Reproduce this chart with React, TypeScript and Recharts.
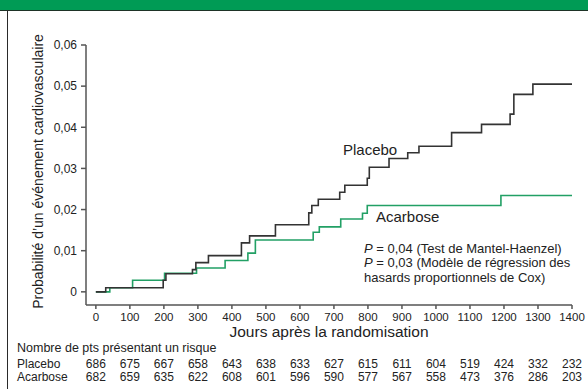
import React from 'react';
import { LineChart, Line, XAxis, YAxis, Label } from 'recharts';

// Kaplan-Meier style cumulative probability (days after randomisation -> probability)
const placeboDays = [0, 29, 198, 206, 284, 294, 331, 428, 452, 528, 626, 635, 654, 717, 732, 798, 804, 862, 917, 950, 1046, 1134, 1218, 1229, 1285, 1400];
const placeboProb = [0, 0.001, 0.0028, 0.0044, 0.0054, 0.0071, 0.0088, 0.0119, 0.0136, 0.0163, 0.0192, 0.021, 0.0225, 0.0242, 0.0259, 0.0276, 0.0303, 0.0324, 0.0338, 0.0354, 0.0387, 0.0407, 0.0432, 0.048, 0.0505, 0.0505];
const acarboseDays = [0, 41, 108, 202, 296, 380, 447, 469, 639, 657, 720, 784, 798, 1191, 1400];
const acarboseProb = [0, 0.001, 0.0028, 0.0045, 0.0058, 0.0076, 0.0094, 0.0126, 0.0145, 0.0158, 0.0177, 0.0191, 0.021, 0.0234, 0.0234];

const dayTicks = [0, 100, 200, 300, 400, 500, 600, 700, 800, 900, 1000, 1100, 1200, 1300, 1400];
const probTicks = [0, 0.01, 0.02, 0.03, 0.04, 0.05, 0.06];

const placeboAtRisk = [686, 675, 667, 658, 643, 638, 633, 627, 615, 611, 604, 519, 424, 332, 232];
const acarboseAtRisk = [682, 659, 635, 622, 608, 601, 596, 590, 577, 567, 558, 473, 376, 286, 203];

const seriesNames = ['Placebo', 'Acarbose'];
const yTitle = 'Probabilité d’un événement cardiovasculaire';
const xTitle = 'Jours après la randomisation';
const tableTitle = 'Nombre de pts présentant un risque';
const noteLines = ['= 0,04 (Test de Mantel-Haenzel)', '= 0,03 (Modèle de régression des', 'hasards proportionnels de Cox)'];

const placeboData = placeboDays.map((d, i) => ({ day: d, p: placeboProb[i] }));
const acarboseData = acarboseDays.map((d, i) => ({ day: d, p: acarboseProb[i] }));

const FONT = '"Liberation Sans", Arial, Helvetica, sans-serif';
const TEXT = '#222';
const GREEN = '#22a065';
const BLACK = '#333';
const X_DOMAIN: [number, number] = [-29, 1400];

const fmtProb = (v: number) => (v === 0 ? '0' : v.toFixed(2).replace('.', ','));

export default function App() {
  return (
    <div style={{ position: 'absolute', left: 0, top: 0, width: 588, height: 389, background: '#fff', fontFamily: FONT, overflow: 'hidden' }}>
      <div style={{ position: 'absolute', left: 0, top: 0, width: 588, height: 10, background: '#009b55', borderBottom: '1.5px solid #1e3327' }} />
      <div style={{ position: 'absolute', left: 6.5, top: 10, width: 1.5, height: 379, background: '#2a2a2a' }} />
      <div style={{ position: 'absolute', left: 0, top: 0 }}>
        <LineChart width={588} height={389} margin={{ top: 45, right: 16, bottom: 7, left: 0 }} style={{ fontFamily: FONT }}>
          <XAxis
            xAxisId="a_main"
            dataKey="day"
            type="number"
            domain={X_DOMAIN}
            allowDataOverflow
            ticks={dayTicks}
            interval={0}
            height={51}
            tickSize={4}
            tickMargin={4}
            stroke="#555"
            strokeWidth={1.5}
            tick={{ fill: TEXT, fontSize: 11.5 }}
          >
            <Label value={xTitle} position="insideBottom" offset={19} style={{ fill: TEXT, fontSize: 15.5 }} />
          </XAxis>
          <XAxis
            xAxisId="b_placeboRisk"
            dataKey="day"
            type="number"
            domain={X_DOMAIN}
            allowDataOverflow
            ticks={dayTicks}
            interval={0}
            height={13}
            axisLine={false}
            tickLine={false}
            tickSize={0}
            tickMargin={3.5}
            tick={{ fill: TEXT, fontSize: 12 }}
            tickFormatter={(v: number, i: number) => String(placeboAtRisk[i])}
          />
          <XAxis
            xAxisId="c_acarboseRisk"
            dataKey="day"
            type="number"
            domain={X_DOMAIN}
            allowDataOverflow
            ticks={dayTicks}
            interval={0}
            height={13}
            axisLine={false}
            tickLine={false}
            tickSize={0}
            tickMargin={3.5}
            tick={{ fill: TEXT, fontSize: 12 }}
            tickFormatter={(v: number, i: number) => String(acarboseAtRisk[i])}
          />
          <YAxis
            type="number"
            domain={[-0.0032, 0.06]}
            allowDataOverflow
            ticks={probTicks}
            interval={0}
            width={86}
            tickSize={5}
            tickMargin={4}
            stroke="#555"
            strokeWidth={1.5}
            tick={{ fill: TEXT, fontSize: 12 }}
            tickFormatter={fmtProb}
          />
          <Line
            xAxisId="a_main"
            data={acarboseData}
            dataKey="p"
            name={seriesNames[1]}
            type="stepAfter"
            stroke={GREEN}
            strokeWidth={1.6}
            dot={false}
            isAnimationActive={false}
          />
          <Line
            xAxisId="a_main"
            data={placeboData}
            dataKey="p"
            name={seriesNames[0]}
            type="stepAfter"
            stroke={BLACK}
            strokeWidth={1.6}
            dot={false}
            isAnimationActive={false}
          />
        </LineChart>
      </div>
      <svg width={588} height={389} style={{ position: 'absolute', left: 0, top: 0, pointerEvents: 'none', fontFamily: FONT }}>
        <text x={43} y={171.5} transform="rotate(-90 43 171.5)" textAnchor="middle" fontSize={14} fill={TEXT}>{yTitle}</text>
        <text x={343} y={154.5} fontSize={15} fill={TEXT}>{seriesNames[0]}</text>
        <text x={376} y={221.5} fontSize={15} fill={TEXT}>{seriesNames[1]}</text>
        <text x={364} y={252.5} fontSize={13} fill={TEXT}><tspan fontStyle="italic">P</tspan> {noteLines[0]}</text>
        <text x={364} y={267} fontSize={13} fill={TEXT}><tspan fontStyle="italic">P</tspan> {noteLines[1]}</text>
        <text x={364} y={281.5} fontSize={13} fill={TEXT}>{noteLines[2]}</text>
        <text x={17} y={352} fontSize={12.5} fill={TEXT}>{tableTitle}</text>
        <text x={17} y={368} fontSize={12} fill={TEXT}>{seriesNames[0]}</text>
        <text x={17} y={381} fontSize={12} fill={TEXT}>{seriesNames[1]}</text>
      </svg>
    </div>
  );
}
